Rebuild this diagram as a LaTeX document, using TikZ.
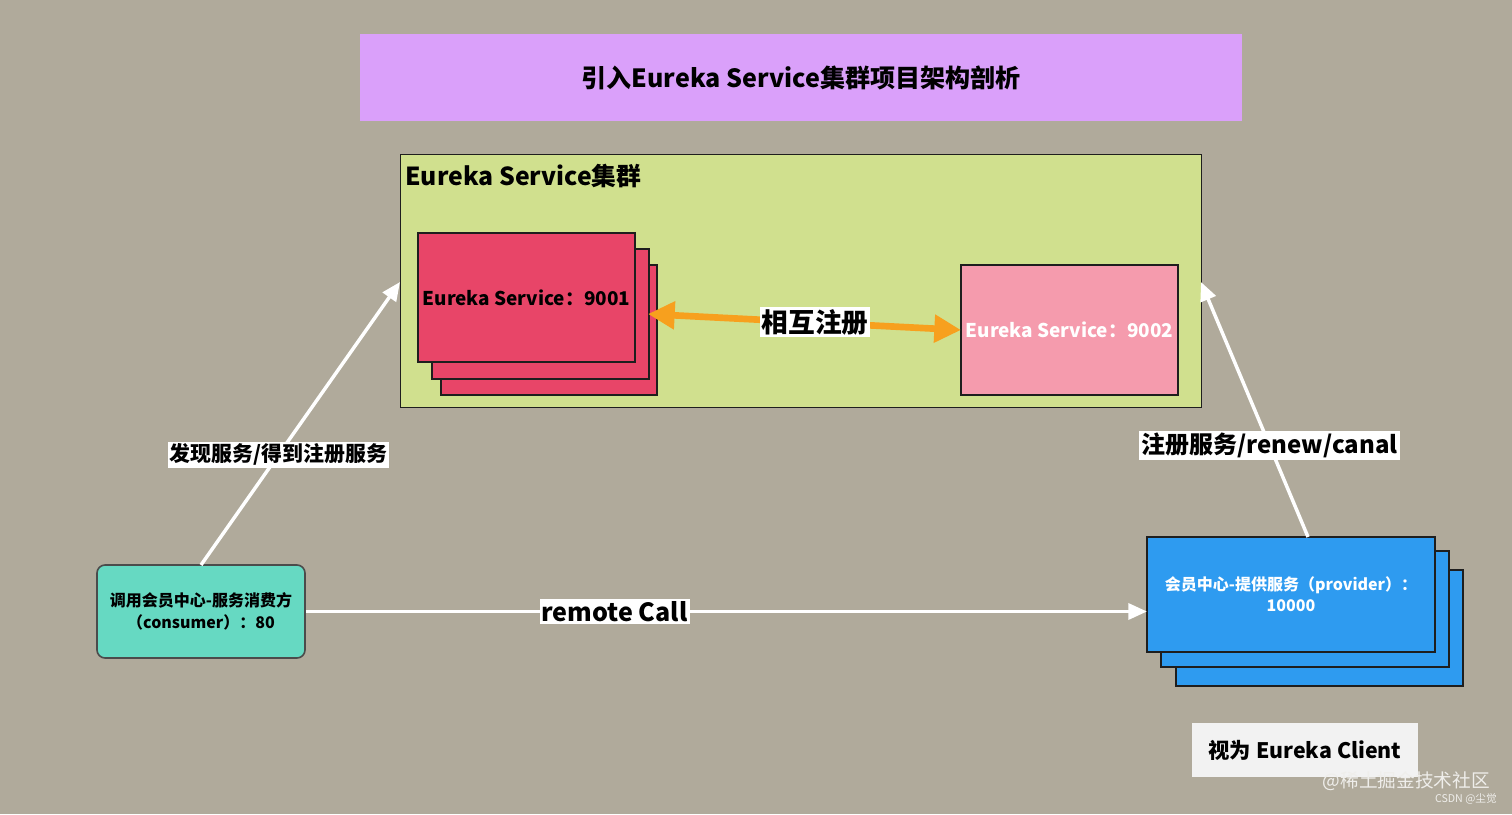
\documentclass[tikz,border=0pt]{standalone}
\usepackage{fontspec}
\setmainfont{Noto Sans CJK SC}
\usetikzlibrary{arrows.meta}
\definecolor{bg}{RGB}{176,170,155}
\definecolor{titlec}{RGB}{218,160,250}
\definecolor{clusterc}{RGB}{208,224,142}
\definecolor{redc}{RGB}{232,69,104}
\definecolor{pinkc}{RGB}{245,155,173}
\definecolor{orangec}{RGB}{247,160,30}
\definecolor{tealc}{RGB}{102,217,194}
\definecolor{bluec}{RGB}{46,155,240}
\definecolor{clientc}{RGB}{242,242,242}
\definecolor{edgec}{RGB}{30,30,30}
\tikzset{
  box/.style={draw=edgec, line width=1.5pt, inner sep=0pt, outer sep=0pt},
  lbl/.style={fill=white, inner sep=1.5pt, font=\bfseries},
  warrow/.style={draw=white, line width=2.6pt, -{Triangle[length=14pt,width=12pt]}},
  oarrow/.style={draw=orangec, line width=5pt, {Triangle[length=20pt,width=20pt]}-{Triangle[length=20pt,width=20pt]}},
}
\begin{document}
\begin{tikzpicture}[x=0.75pt,y=-0.75pt]
\fill[bg] (0,0) rectangle (1512,814);
\useasboundingbox (0,0) rectangle (1512,814);
% title
\node[fill=titlec, minimum width=882*0.75pt, minimum height=87*0.75pt, inner sep=0pt, font=\bfseries\fontsize{18.8}{22}\selectfont] (title) at (801,77.5) {引入Eureka Service集群项目架构剖析};
% cluster
\node[fill=clusterc, draw=edgec, line width=0.6pt, minimum width=801*0.75pt, minimum height=253*0.75pt, inner sep=0pt] (cluster) at (800.5,280.5) {};
\node[anchor=west, font=\bfseries\fontsize{18.6}{22}\selectfont, inner sep=0pt] (ctitle) at (405,176) {Eureka Service集群};
% red stack
\node[box, fill=redc, minimum width=216*0.75pt, minimum height=130*0.75pt] (r3) at (549,330) {};
\node[box, fill=redc, minimum width=217*0.75pt, minimum height=130*0.75pt] (r2) at (540.5,314) {};
\node[box, fill=redc, minimum width=217*0.75pt, minimum height=129*0.75pt, font=\bfseries\fontsize{14.2}{18}\selectfont] (r1) at (526.5,297.5) {Eureka Service：9001};
% pink
\node[box, fill=pinkc, minimum width=217*0.75pt, minimum height=130*0.75pt, text=white, font=\bfseries\fontsize{14.2}{18}\selectfont] (p1) at (1069.5,330) {Eureka Service：9002};
% orange double arrow
\coordinate (oa) at (648,314);
\coordinate (ob) at (961,330);
\draw[oarrow] (oa) -- (ob);
\node[lbl, font=\bfseries\fontsize{20}{22}\selectfont] (mutual) at (815,322) {相互注册};
% consumer
\node[draw=edgec!80, line width=1.2pt, rounded corners=6pt, fill=tealc, minimum width=208*0.75pt, minimum height=93*0.75pt, align=center, font=\bfseries\fontsize{12}{16}\selectfont] (cons) at (201,611.5) {调用会员中心-服务消费方\\（consumer）：80};
% provider stack
\node[box, fill=bluec, minimum width=287*0.75pt, minimum height=116*0.75pt] (b3) at (1319.5,628) {};
\node[box, fill=bluec, minimum width=288*0.75pt, minimum height=116*0.75pt] (b2) at (1305,609) {};
\node[box, fill=bluec, minimum width=288*0.75pt, minimum height=115*0.75pt, text=white, align=center, font=\bfseries\fontsize{12}{16}\selectfont] (b1) at (1291,594.5) {会员中心-提供服务（provider）：\\10000};
% client label
\node[fill=clientc, minimum width=226*0.75pt, minimum height=54*0.75pt, inner sep=0pt, font=\bfseries\fontsize{16}{20}\selectfont] (client) at (1305,750) {视为 Eureka Client};
% arrows
\coordinate (ctop) at (201,565);
\coordinate (cl) at (400,282);
\draw[warrow] (ctop) -- (cl) node[pos=0.39, lbl, font=\bfseries\fontsize{15.7}{18}\selectfont] (discover) {发现服务/得到注册服务};
\coordinate (ptop) at (1308,537);
\coordinate (cr) at (1201,282);
\draw[warrow] (ptop) -- (cr) node[pos=0.36, lbl, font=\bfseries\fontsize{18}{20}\selectfont] (register) {注册服务/renew/canal};
\draw[warrow] (cons.east) -- (b1.west |- cons.east) node[pos=0.367, lbl, font=\bfseries\fontsize{18.8}{22}\selectfont] (remote) {remote Call};
% watermark
\node[anchor=east, text=white!80!bg, font=\fontsize{14}{16}\selectfont, inner sep=0pt] (wm1) at (1490,781) {@稀土掘金技术社区};
\node[anchor=east, text=white!80!bg, font=\fontsize{8}{10}\selectfont, inner sep=0pt] (wm2) at (1497,799) {CSDN @尘觉};
\end{tikzpicture}
\end{document}
